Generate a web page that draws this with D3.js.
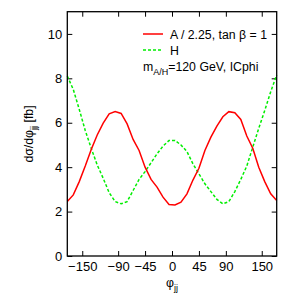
<!DOCTYPE html>
<html>
<head>
<meta charset="utf-8">
<script src="https://cdn.jsdelivr.net/npm/d3@7"></script>
<style>
  body { margin: 0; background: #fff; }
  svg text { font-family: "Liberation Sans", Arial, sans-serif; fill: #000; }
  .tick line { stroke: #000; }
</style>
</head>
<body>
<svg id="chart" width="300" height="294"></svg>
<script>
// angle bins (degrees)
var phi = [-175,-165,-155,-145,-135,-125,-115,-105,-95,-85,-75,-65,-55,-45,-35,-25,-15,-5,
           5,15,25,35,45,55,65,75,85,95,105,115,125,135,145,155,165,175];
// A / 2.25, tan beta = 1
var aVals = [2.45,2.75,3.35,4.05,4.8,5.45,5.98,6.4,6.5,6.42,5.95,5.25,4.75,4.0,3.45,3.1,2.65,2.32,
             2.3,2.42,2.8,3.42,3.95,4.75,5.35,5.85,6.27,6.5,6.45,6.15,5.4,4.85,4.0,3.35,2.8,2.5];
// H
var hVals = [8.1,7.5,6.6,5.65,4.85,4.1,3.5,2.85,2.45,2.35,2.45,2.95,3.45,3.8,4.2,4.6,4.95,5.2,
             5.2,5.0,4.7,4.15,3.7,3.25,2.9,2.55,2.35,2.45,2.9,3.45,4.05,4.9,5.75,6.55,7.4,8.15];
var xTicks = [-150,-90,-45,0,45,90,150];
var yTicks = [0,2,4,6,8,10];

var L = 67.3, R = 276.7, T = 11.7, B = 256;
var svg = d3.select("#chart");

var x = d3.scaleLinear().domain([-175,175]).range([L,R]);
var y = d3.scaleLinear().domain([0,11]).range([B,T]);

// axes, ticks pointing inward on all four sides
var gx = svg.append("g").attr("transform","translate(0,"+B+")")
  .call(d3.axisBottom(x).tickValues(xTicks).tickSize(-5).tickPadding(6));
var gy = svg.append("g").attr("transform","translate("+L+",0)")
  .call(d3.axisLeft(y).tickValues(yTicks).tickSize(-5).tickPadding(5));
svg.append("g").attr("transform","translate(0,"+T+")")
  .call(d3.axisTop(x).tickValues(xTicks).tickSize(-5).tickFormat(""));
svg.append("g").attr("transform","translate("+R+",0)")
  .call(d3.axisRight(y).tickValues(yTicks).tickSize(-5).tickFormat(""));
svg.selectAll(".domain").remove();
svg.selectAll(".tick text").style("font-size","13px")
  .style("font-family","'Liberation Sans', Arial, sans-serif");

// curves
var line = d3.line().x(function(d){return x(d[0]);}).y(function(d){return y(d[1]);});
svg.append("path").datum(d3.zip(phi,hVals)).attr("d",line)
  .attr("fill","none").attr("stroke","#00ee00").attr("stroke-width",1.5).attr("stroke-dasharray","3,2");
svg.append("path").datum(d3.zip(phi,aVals)).attr("d",line)
  .attr("fill","none").attr("stroke","#ff0000").attr("stroke-width",1.5);

// frame
svg.append("rect").attr("x",L).attr("y",T).attr("width",R-L).attr("height",B-T)
  .attr("fill","none").attr("stroke","#000").attr("stroke-width",1.3);

// legend
svg.append("line").attr("x1",143).attr("x2",163).attr("y1",34).attr("y2",34)
  .attr("stroke","#ff0000").attr("stroke-width",1.5);
svg.append("line").attr("x1",143).attr("x2",163).attr("y1",50).attr("y2",50)
  .attr("stroke","#00ee00").attr("stroke-width",1.5).attr("stroke-dasharray","3,2");
svg.append("text").attr("x",170).attr("y",38.5).style("font-size","12.3px").text("A / 2.25, tan β = 1");
svg.append("text").attr("x",170).attr("y",54.5).style("font-size","12.3px").text("H");
var t3 = svg.append("text").attr("x",143).attr("y",71).style("font-size","12.3px");
t3.append("tspan").text("m");
t3.append("tspan").attr("dy",3.5).style("font-size","9px").text("A/H");
t3.append("tspan").attr("dy",-3.5).text("=120 GeV, ICphi");

// axis titles
var yl = svg.append("text").attr("transform","translate(33,134) rotate(-90)")
  .attr("text-anchor","middle").style("font-size","12.3px");
yl.append("tspan").text("dσ/dφ");
yl.append("tspan").attr("dy",3.5).style("font-size","9px").text("jj");
yl.append("tspan").attr("dy",-3.5).text(" [fb]");

var xl = svg.append("text").attr("x",172).attr("y",287)
  .attr("text-anchor","middle").style("font-size","12.3px");
xl.append("tspan").text("φ");
xl.append("tspan").attr("dy",3.5).style("font-size","9px").text("jj");
</script>
</body>
</html>
